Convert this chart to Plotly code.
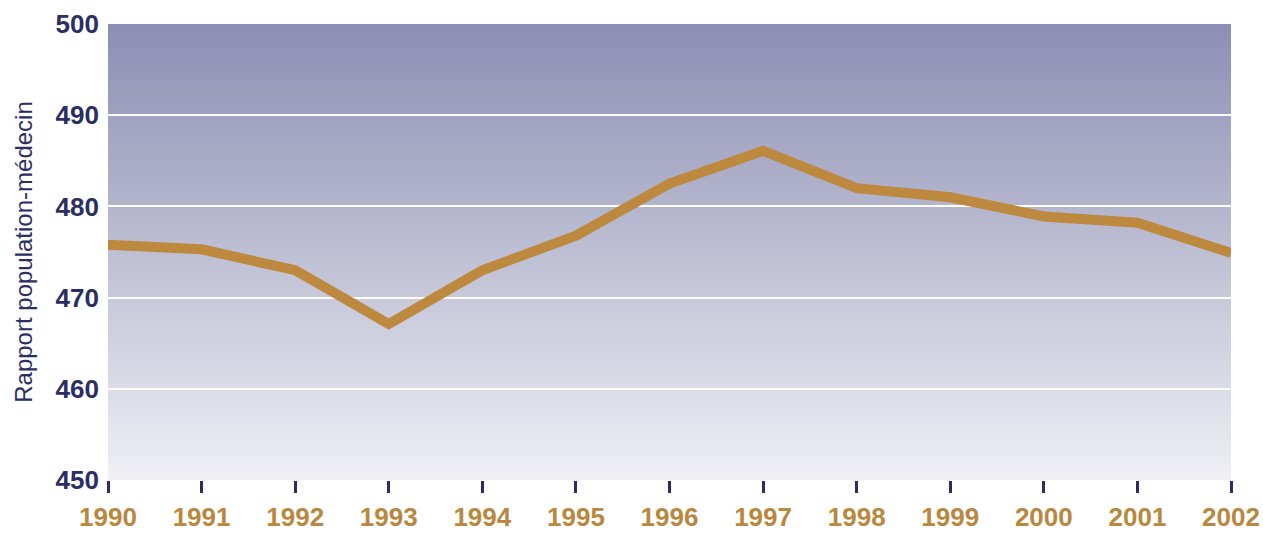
import base64
import struct
import zlib

import plotly.graph_objects as go

years = [1990, 1991, 1992, 1993, 1994, 1995, 1996, 1997, 1998, 1999, 2000, 2001, 2002]
ratio = [475.8, 475.3, 473.0, 467.1, 473.0, 476.8, 482.5, 486.1, 482.0, 481.0, 478.9, 478.2, 474.9]
y_ticks = [450, 460, 470, 480, 490, 500]

NAVY = "#2b2e63"
GOLD = "#b9873e"
LINE = "#bc893f"
GRAD_TOP = (0x8c, 0x8f, 0xb3)
GRAD_BOTTOM = (0xef, 0xef, 0xf4)
FONT = "Liberation Sans Narrow, Arial Narrow, Liberation Sans, Arial, sans-serif"


def gradient_png(top, bottom, h=256, w=2):
    rows = []
    for i in range(h):
        t = i / (h - 1)
        c = bytes(int(round(top[k] + (bottom[k] - top[k]) * t)) for k in range(3))
        rows.append(b"\x00" + c * w)
    raw = b"".join(rows)

    def chunk(tag, data):
        return (struct.pack(">I", len(data)) + tag + data
                + struct.pack(">I", zlib.crc32(tag + data) & 0xFFFFFFFF))

    png = (b"\x89PNG\r\n\x1a\n"
           + chunk(b"IHDR", struct.pack(">IIBBBBB", w, h, 8, 2, 0, 0, 0))
           + chunk(b"IDAT", zlib.compress(raw))
           + chunk(b"IEND", b""))
    return "data:image/png;base64," + base64.b64encode(png).decode()


fig = go.Figure()
fig.add_trace(go.Scatter(
    x=years, y=ratio, mode="lines",
    line=dict(color=LINE, width=10),
    hoverinfo="x+y", showlegend=False,
))

fig.update_layout(
    width=1263, height=533,
    margin=dict(l=108, r=32, t=24, b=53),
    paper_bgcolor="white",
    plot_bgcolor="rgba(0,0,0,0)",
    images=[dict(
        source=gradient_png(GRAD_TOP, GRAD_BOTTOM),
        xref="paper", yref="paper", x=0, y=1, sizex=1, sizey=1,
        xanchor="left", yanchor="top", sizing="stretch", layer="below",
    )],
    xaxis=dict(
        range=[1990, 2002], tickmode="array", tickvals=years,
        ticktext=[str(y) for y in years],
        showgrid=False, zeroline=False, showline=False, automargin=False,
        ticks="outside", ticklen=12, tickwidth=3, tickcolor=NAVY,
        tickfont=dict(family=FONT, size=26, color=GOLD, weight="bold"),
        ticklabelstandoff=2, ticklabeloverflow="allow",
    ),
    yaxis=dict(
        range=[450, 500], tickmode="array", tickvals=y_ticks,
        showgrid=True, gridcolor="white", gridwidth=2, automargin=False,
        zeroline=False, showline=False, ticks="",
        tickfont=dict(family=FONT, size=26, color=NAVY, weight="bold"),
        ticklabelstandoff=8, ticklabeloverflow="allow",
        title=dict(text="Rapport population-médecin", standoff=16,
                   font=dict(family=FONT, size=24, color=NAVY)),
    ),
)

fig.write_html("out.html", config={"displayModeBar": False},
               post_script="document.body.style.margin='0';")
